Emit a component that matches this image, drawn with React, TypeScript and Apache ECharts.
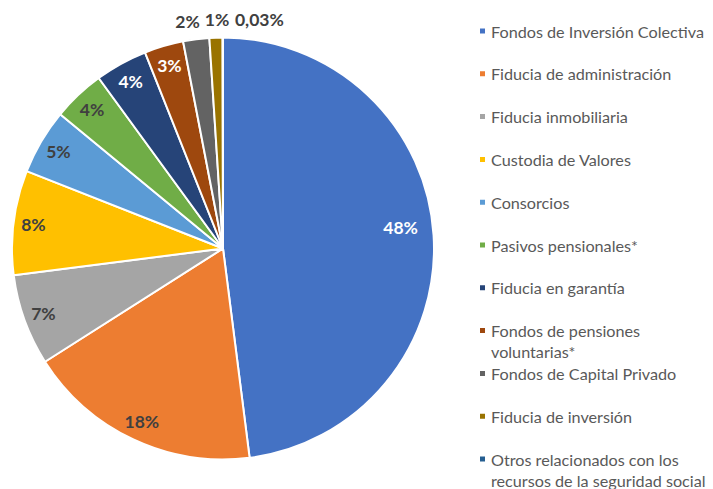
import React, { useEffect, useRef } from "react";
import * as echarts from "echarts";

const categories = [
  "Fondos de Inversión Colectiva",
  "Fiducia de administración",
  "Fiducia inmobiliaria",
  "Custodia de Valores",
  "Consorcios",
  "Pasivos pensionales*",
  "Fiducia en garantía",
  "Fondos de pensiones voluntarias*",
  "Fondos de Capital Privado",
  "Fiducia de inversión",
  "Otros relacionados con los recursos de la seguridad social",
];
const legendLabels = [
  "Fondos de Inversión Colectiva",
  "Fiducia de administración",
  "Fiducia inmobiliaria",
  "Custodia de Valores",
  "Consorcios",
  "Pasivos pensionales*",
  "Fiducia en garantía",
  "Fondos de pensiones\nvoluntarias*",
  "Fondos de Capital Privado",
  "Fiducia de inversión",
  "Otros relacionados con los\nrecursos de la seguridad social",
];
const values = [48, 18, 7, 8, 5, 4, 4, 3, 2, 1, 0.03];

const colors = [
  "#4472C4", "#ED7D31", "#A5A5A5", "#FFC000", "#5B9BD5", "#70AD47",
  "#264478", "#9E480E", "#636363", "#997300", "#255E91",
];
const whiteLabel = [true, false, false, false, false, false, true, true, false, false, false];
const outsideLabel = [false, false, false, false, false, false, false, false, true, true, true];
const labelShift: Record<number, [number, number]> = {
  0: [-13, -9],
  8: [11, 1],
  9: [19, 1],
  10: [66, 1],
};

const FONT = "Lato";

export default function App() {
  const ref = useRef<HTMLDivElement>(null);
  useEffect(() => {
    if (!ref.current) return;
    const chart = echarts.init(ref.current, undefined, { renderer: "svg" });
    const fmt = (p: any) => String(p.value).replace(".", ",") + "%";

    const legends = categories.map((name, i) => {
      const twoLine = legendLabels[i].includes("\n");
      const yc = 31 + 42.8 * i;
      return {
        data: [name],
        orient: "vertical",
        left: 478,
        top: twoLine ? yc - 31.5 : yc - 10.5,
        padding: 0,
        itemWidth: 7,
        itemHeight: 7,
        icon: "rect",
        selectedMode: false,
        formatter: () => (twoLine ? "\n" + legendLabels[i] : legendLabels[i]),
        textStyle: {
          fontFamily: FONT,
          fontSize: 16.2,
          color: "#595959",
          lineHeight: 21,
        },
      };
    });

    chart.setOption({
      animation: false,
      backgroundColor: "#ffffff",
      legend: legends,
      series: [
        {
          type: "pie",
          name: "main",
          center: [223, 248.5],
          radius: 211,
          startAngle: 90,
          clockwise: true,
          avoidLabelOverlap: false,
          silent: true,
          label: { show: false },
          labelLine: { show: false },
          itemStyle: { borderColor: "#ffffff", borderWidth: 2 },
          data: categories.map((name, i) => ({
            name,
            value: values[i],
            itemStyle: { color: colors[i] },
          })),
        },
        {
          type: "pie",
          name: "labels",
          center: [223, 248.5],
          radius: [167, 209],
          startAngle: 90,
          clockwise: true,
          avoidLabelOverlap: false,
          silent: true,
          legendHoverLink: false,
          itemStyle: { color: "rgba(0,0,0,0)", borderWidth: 0 },
          label: {
            show: true,
            position: "inside",
            formatter: fmt,
            fontFamily: FONT,
            fontWeight: "bold",
            fontSize: 17.5,
          },
          labelLine: { show: false, length: 21, length2: 0 },
          labelLayout: (params: any) => {
            const s = labelShift[params.dataIndex];
            if (s) return { dx: s[0], dy: s[1] };
            return {};
          },
          data: categories.map((name, i) => ({
            name,
            value: values[i],
            itemStyle: { color: "rgba(0,0,0,0)" },
            label: {
              position: outsideLabel[i] ? "outside" : "inside",
              color: whiteLabel[i] ? "#ffffff" : "#404040",
            },
          })),
        },
      ],
    });
    return () => chart.dispose();
  }, []);
  return <div ref={ref} style={{ width: 713, height: 489, position: "absolute", left: 0, top: 0 }} />;
}
